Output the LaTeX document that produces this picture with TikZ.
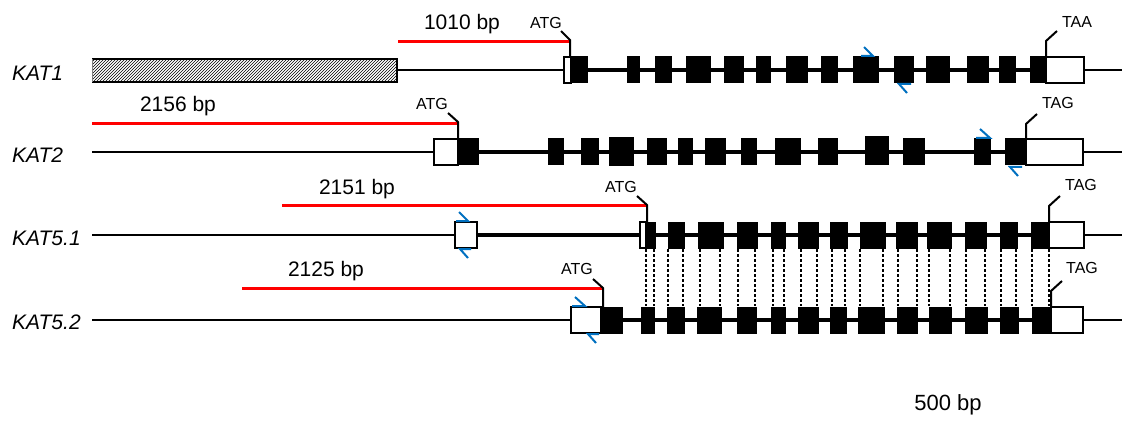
\documentclass[tikz,border=0pt]{standalone}
\usepackage{fontspec}
\setmainfont{Liberation Sans}
\usetikzlibrary{patterns}
\definecolor{primerblue}{RGB}{0,112,192}
\begin{document}
\begin{tikzpicture}[x=1pt,y=-1pt,
  intron/.style={line width=2pt},
  cds/.style={line width=4pt},
  exon/.style={fill=black,draw=black,line width=1pt},
  utr/.style={fill=white,draw=black,line width=2pt},
  redline/.style={draw=red,line width=3pt},
  leader/.style={line width=2pt},
  primer/.style={draw=primerblue,line width=2pt},
  bp/.style={font=\fontsize{21}{23}\selectfont,inner sep=0pt},
  cod/.style={font=\fontsize{16}{18}\selectfont,inner sep=0pt},
  gene/.style={font=\fontsize{21}{23}\selectfont\itshape,inner sep=0pt,anchor=west},
  link/.style={line width=2.5pt,dash pattern=on 2.5pt off 2.5pt}
]
\useasboundingbox (0,0) rectangle (1128,433);
\newcommand\exonrow[2]{\foreach \a/\b in {#2} {\filldraw[exon] (\a,#1-13) rectangle (\b,#1+13);}}

% ---------- KAT1 ----------
\draw[intron] (397,70) -- (1122,70);
\draw[cds] (570,70) -- (1046,70);
\fill[pattern=north east lines] (92,59) rectangle (397,82);
\draw[line width=2pt] (92,59) -- (397,59) -- (397,82) -- (92,82);
\draw[line width=0.5pt,gray] (92,59) -- (92,82);
\exonrow{70}{570/587,627/639,655/671,686/710,724/743,756/770,786/807,821/837,853/878,894/913,926/949,967/988,999/1015,1030/1046}
\draw[utr] (564,57) rectangle (571,83);
\draw[utr] (1046,57) rectangle (1084,83);
\draw[redline] (398,42) -- (570,42);
\draw[leader] (561,31) -- (570,40) -- (570,57);
\draw[leader] (1046,57) -- (1046,41) -- (1057,31);
\node[gene] (g1) at (12,73) {KAT1};
\node[bp] (bp1) at (462,24) {1010 bp};
\node[cod] (atg1) at (546,23) {ATG};
\node[cod] (taa1) at (1077,22) {TAA};
\draw[primer] (861,56) -- (873,56) -- (864,47);
\draw[primer] (911,84) -- (899,84) -- (907,93);

% ---------- KAT2 ----------
\draw[intron] (92,152) -- (1122,152);
\draw[cds] (458,152) -- (1026,152);
\exonrow{152}{458/478,548/563,581/598,647/666,678/692,705/725,741/756,775/800,818/837,903/924,974/990,1005/1026}
\filldraw[exon] (609,138) rectangle (633,166);
\filldraw[exon] (865,137) rectangle (888,165);
\draw[utr] (434,139) rectangle (458,165);
\draw[utr] (1026,139) rectangle (1083,165);
\draw[redline] (92,124) -- (458,124);
\draw[leader] (448,113) -- (458,122) -- (458,139);
\draw[leader] (1026,139) -- (1026,124) -- (1037,114);
\node[gene] (g2) at (12,155) {KAT2};
\node[bp] (bp2) at (178,106) {2156 bp};
\node[cod] (atg2) at (432,104) {ATG};
\node[cod] (tag2) at (1058,103) {TAG};
\draw[primer] (976,138) -- (990,138) -- (980,129);
\draw[primer] (1022,167) -- (1010,167) -- (1018,176);

% ---------- KAT5.1 ----------
\draw[intron] (92,235) -- (1122,235);
\draw[cds] (477,235) -- (1049,235);
\exonrow{235}{645/655,668/684,698/723,737/757,771/785,798/818,830/847,860/885,896/917,927/951,965/986,1000/1017,1031/1049}
\draw[utr] (455,222) rectangle (477,248);
\draw[utr] (640,222) rectangle (646,248);
\draw[utr] (1049,222) rectangle (1084,248);
\draw[redline] (282,206) -- (647,206);
\draw[leader] (637,196) -- (647,205) -- (647,222);
\draw[leader] (1049,222) -- (1049,206) -- (1060,196);
\node[gene] (g3) at (12,238) {KAT5.1};
\node[bp] (bp3) at (357,189) {2151 bp};
\node[cod] (atg3) at (621,187) {ATG};
\node[cod] (tag3) at (1081,185) {TAG};
\draw[primer] (456,221) -- (468,221) -- (459,212);
\draw[primer] (471,249) -- (460,249) -- (468,258);

% ---------- KAT5.2 ----------
\draw[intron] (92,320) -- (1122,320);
\draw[cds] (601,320) -- (1051,320);
\exonrow{320}{601/622,641/654,667/684,697/721,737/756,771/785,798/818,830/846,858/884,897/917,929/951,965/987,1000/1018,1032/1051}
\draw[utr] (571,307) rectangle (601,333);
\draw[utr] (1051,307) rectangle (1083,333);
\draw[redline] (242,288) -- (603,288);
\draw[leader] (593,279) -- (603,288) -- (603,307);
\draw[leader] (1051,307) -- (1051,291) -- (1062,281);
\node[gene] (g4) at (12,322) {KAT5.2};
\node[bp] (bp4) at (326,271) {2125 bp};
\node[cod] (atg4) at (577,269) {ATG};
\node[cod] (tag4) at (1082,268) {TAG};
\draw[primer] (572,306) -- (585,306) -- (575,297);
\draw[primer] (599,334) -- (588,334) -- (596,343);

% ---------- exon correspondence ----------
\foreach \x in {646,654,668,683,700,720,738,755,773,784,801,817,832,845,860,883,898,917,929,950,966,985,1001,1016,1032,1049}
  \draw[link] (\x,249) -- (\x,306);

\node[font=\fontsize{22}{24}\selectfont,inner sep=0pt] (scale) at (948,405) {500 bp};
\end{tikzpicture}
\end{document}
